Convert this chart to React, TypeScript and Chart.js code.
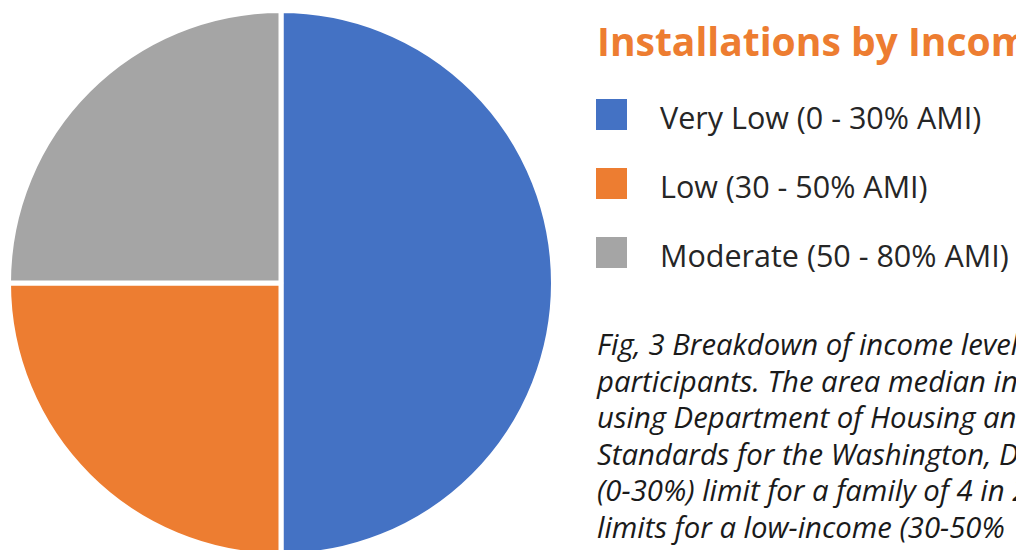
import React, { useEffect, useRef } from "react";
import { Chart, registerables } from "chart.js";

Chart.register(...registerables);

const categories = ["Very Low (0 - 30% AMI)", "Low (30 - 50% AMI)", "Moderate (50 - 80% AMI)"];
const values = [50, 25, 25];
const colors = ["#4472C4", "#ED7D31", "#A5A5A5"];
const titleText = "Installations by Income";
const captionLines = [
  "Fig, 3 Breakdown of income level",
  "participants. The area median in",
  "using Department of Housing an",
  "Standards for the Washington, D",
  "(0-30%) limit for a family of 4 in 2",
  "limits for a low-income (30-50%",
];

const FONT = "'Open Sans', Lato, 'Noto Sans', sans-serif";

export default function App() {
  const ref = useRef<HTMLCanvasElement | null>(null);

  useEffect(() => {
    document.body.style.margin = "0";
    const ctx = ref.current;
    if (!ctx) return;
    const chart = new Chart(ctx, {
      type: "pie",
      data: {
        labels: categories,
        datasets: [
          {
            data: values,
            backgroundColor: colors,
            borderColor: "#ffffff",
            borderWidth: 5,
            hoverOffset: 0,
          },
        ],
      },
      options: {
        responsive: false,
        animation: false,
        layout: { padding: { left: 6, top: 6, right: 6, bottom: 6 } },
        plugins: {
          legend: { display: false },
          tooltip: { enabled: false },
        },
      },
    });
    return () => chart.destroy();
  }, []);

  return (
    <div
      style={{
        position: "relative",
        width: 1016,
        height: 550,
        overflow: "hidden",
        background: "#ffffff",
        fontFamily: FONT,
      }}
    >
      <canvas
        ref={ref}
        width={562}
        height={566}
        style={{ position: "absolute", left: 0, top: 0, width: 562, height: 566 }}
      />
      <div
        style={{
          position: "absolute",
          left: 597,
          top: 16,
          fontSize: 39,
          fontWeight: 700,
          color: "#ED7D31",
          whiteSpace: "nowrap",
          lineHeight: "50px",
        }}
      >
        {titleText}
      </div>
      {categories.map((c, i) => (
        <div key={c}>
          <div
            style={{
              position: "absolute",
              left: 596,
              top: 99 + i * 69,
              width: 31,
              height: 31,
              background: colors[i],
            }}
          />
          <div
            style={{
              position: "absolute",
              left: 660,
              top: 97 + i * 69,
              fontSize: 30.5,
              color: "#262626",
              whiteSpace: "nowrap",
              lineHeight: "40px",
            }}
          >
            {c}
          </div>
        </div>
      ))}
      <div
        style={{
          position: "absolute",
          left: 597,
          top: 326,
          fontSize: 29.3,
          fontStyle: "italic",
          color: "#1a1a1a",
          whiteSpace: "nowrap",
          lineHeight: "36.6px",
        }}
      >
        {captionLines.map((l) => (
          <div key={l}>{l}</div>
        ))}
      </div>
    </div>
  );
}
